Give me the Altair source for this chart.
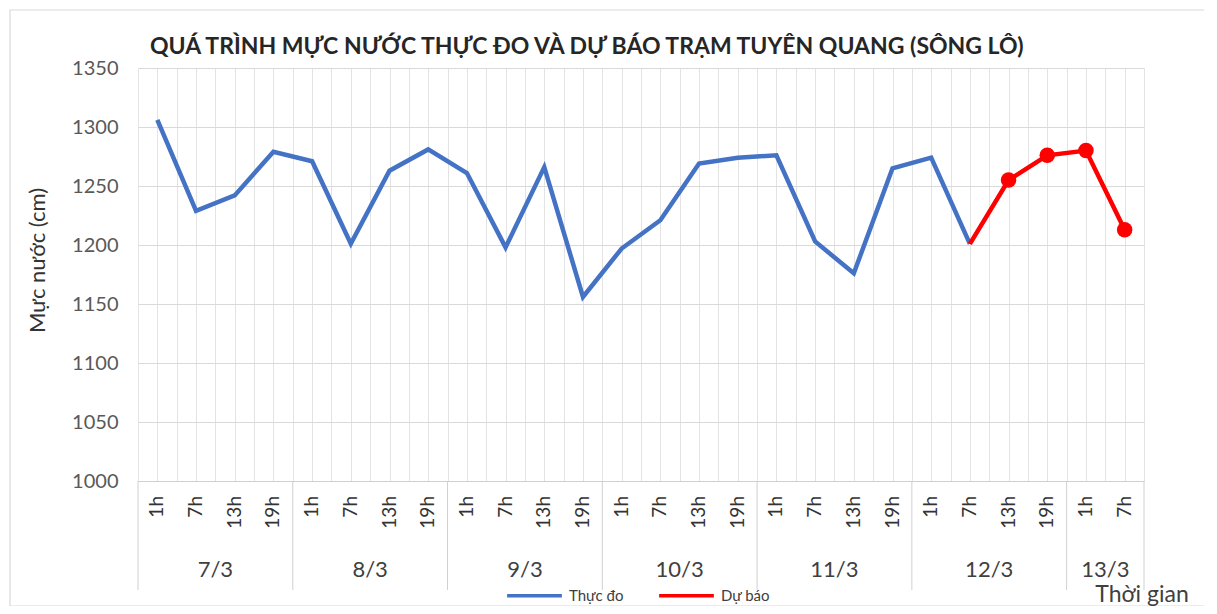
import altair as alt
import pandas as pd

# ---- data ----
hours = ["1h", "7h", "13h", "19h"] * 6 + ["1h", "7h"]
dates = ["7/3", "8/3", "9/3", "10/3", "11/3", "12/3", "13/3"]
date_counts = [4, 4, 4, 4, 4, 4, 2]
observed = [1306, 1229, 1242, 1279, 1271, 1201, 1263, 1281, 1261, 1198, 1266, 1156,
            1197, 1221, 1269, 1274, 1276, 1203, 1176, 1265, 1274, 1201]
forecast = [1201, 1255, 1276, 1280, 1213]
forecast_start = 21
series_names = ["Thực đo", "Dự báo"]
y_ticks = [1000, 1050, 1100, 1150, 1200, 1250, 1300, 1350]

W, H = 1006, 413
FONT = "Lato"

rows = []
for i, v in enumerate(observed):
    rows.append({"idx": i, "value": v, "series": series_names[0], "marker": False})
for j, v in enumerate(forecast):
    rows.append({"idx": forecast_start + j, "value": v, "series": series_names[1], "marker": j > 0})
df = pd.DataFrame(rows)

# group centres & separators derived from counts
starts, s = [], 0
for c in date_counts:
    starts.append(s)
    s += c
centers = [st + (c - 1) / 2 for st, c in zip(starts, date_counts)]
seps = [st - 0.5 for st in starts] + [s - 0.5]
df_dates = pd.DataFrame({"idx": centers, "date": dates})
df_seps = pd.DataFrame({"idx": seps})
df_hours = pd.DataFrame({"idx": list(range(len(hours))), "hour": hours})

n = len(hours)
grid_vals = [k * 0.5 - 0.5 for k in range(2 * n + 1)]

xscale = alt.Scale(domain=[-0.5, n - 0.5], nice=False, zero=False)
yscale = alt.Scale(domain=[1000, 1350], nice=False, zero=False)

x_enc = alt.X(
    "idx:Q", scale=xscale,
    axis=alt.Axis(
        values=grid_vals, labels=False, ticks=False, grid=True,
        gridColor="#e3e3e3", domainColor="#d0d0d0", title=None,
    ),
)
y_enc = alt.Y(
    "value:Q", scale=yscale,
    axis=alt.Axis(
        values=y_ticks, format="d", grid=True, gridColor="#d9d9d9", domain=False, ticks=False,
        labelFontSize=20, labelColor="#595959", labelFont=FONT, labelPadding=20,
        title="Mực nước (cm)", titleFontSize=22, titleFont=FONT, titleColor="#333333",
        titleFontWeight="normal", titlePadding=22, titleY=192,
    ),
)

color_enc = alt.Color(
    "series:N",
    scale=alt.Scale(domain=series_names, range=["#4472C4", "#FF0000"]),
    legend=alt.Legend(
        orient="none", legendX=367, legendY=498, offset=0, padding=0,
        direction="horizontal", title=None,
        symbolType="stroke", symbolSize=3000, symbolStrokeWidth=3.5,
        labelFont=FONT, labelFontSize=15, labelColor="#404040", columnPadding=28,
        labelOffset=5,
    ),
)

base = alt.Chart(df)

lines = base.mark_line(strokeWidth=4.5).encode(
    x=x_enc, y=y_enc, color=color_enc, detail="series:N"
)
lines_red = base.transform_filter(alt.datum.series == series_names[1]).mark_line(
    strokeWidth=3, color="#FF0000"
).encode(x=x_enc, y=y_enc)

points = base.transform_filter(alt.datum.marker == True).mark_circle(
    size=240, color="#FF0000", opacity=1
).encode(x=x_enc, y=y_enc)

hour_text = alt.Chart(df_hours).mark_text(
    font=FONT, fontSize=19, color="#333333", angle=270, align="right", baseline="middle"
).encode(x=x_enc, y=alt.value(H + 15), text="hour:N")

date_text = alt.Chart(df_dates).mark_text(
    font=FONT, fontSize=22, color="#404040", baseline="middle"
).encode(x=x_enc, y=alt.value(H + 89), text="date:N")

sep_rules = alt.Chart(df_seps).mark_rule(color="#d0d0d0", strokeWidth=1).encode(
    x=x_enc, y=alt.value(H), y2=alt.value(H + 109)
)

xlabel = alt.Chart(pd.DataFrame({"t": ["Thời gian"]})).mark_text(
    font=FONT, fontSize=23, color="#404040", baseline="middle"
).encode(x=alt.value(1004), y=alt.value(527), text="t:N")

frame = alt.Chart(pd.DataFrame({"a": [0]})).mark_rect(
    filled=False, stroke="#d9d9d9", strokeWidth=1.2
).encode(x=alt.value(-128), x2=alt.value(1068), y=alt.value(-58), y2=alt.value(538))

chart = alt.layer(
    frame, sep_rules, lines, lines_red, points, hour_text, date_text, xlabel,
).properties(
    width=W, height=H,
    padding={"left": 130, "top": 60, "right": 60, "bottom": 125},
    autosize=alt.AutoSizeParams(type="none"),
    background="white",
    title=alt.Title(
        "QUÁ TRÌNH MỰC NƯỚC THỰC ĐO VÀ DỰ BÁO TRẠM TUYÊN QUANG (SÔNG LÔ)",
        anchor="start", frame="group", dx=12, offset=-50, font=FONT, fontSize=23,
        fontWeight="bold", color="#262626",
    ),
).configure_view(stroke=None)

chart.save("out.html", embed_options={"renderer": "svg", "actions": False})
